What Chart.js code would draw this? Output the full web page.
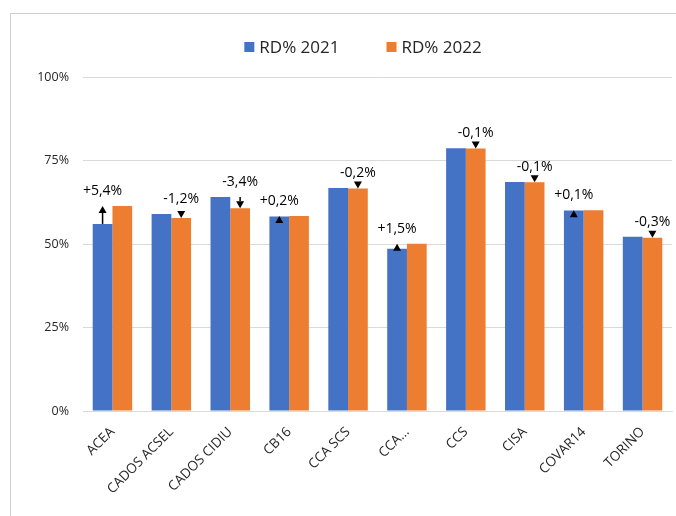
<!DOCTYPE html>
<html>
<head>
<meta charset="utf-8">
<script src="https://cdn.jsdelivr.net/npm/chart.js@4.4.1/dist/chart.umd.min.js"></script>
<style>
  html, body { margin: 0; padding: 0; background: #fff; }
  .frame { position: absolute; left: 10px; top: 13px; width: 720px; height: 560px; border: 1px solid #d0d0d0; }
  .wrap { position: absolute; left: 0; top: 0; width: 676px; height: 516px; }
</style>
</head>
<body>
<div class="frame"></div>
<div class="wrap"><canvas id="chart" width="676" height="516"></canvas></div>
<script>
  const categorie = ['ACEA', 'CADOS ACSEL', 'CADOS CIDIU', 'CB16', 'CCA SCS', 'CCA...', 'CCS', 'CISA', 'COVAR14', 'TORINO'];
  const rd2021 = [56.0, 59.0, 64.1, 58.2, 66.8, 48.6, 78.7, 68.6, 60.0, 52.2];
  const rd2022 = [61.4, 57.8, 60.7, 58.4, 66.6, 50.1, 78.6, 68.5, 60.1, 51.9];
  const variazione = [5.4, -1.2, -3.4, 0.2, -0.2, 1.5, -0.1, -0.1, 0.1, -0.3];
  const tickY = [0, 25, 50, 75, 100];

  const BLUE = '#4472C4';
  const ORANGE = '#ED7D31';

  const fmtVar = (v) => (v > 0 ? '+' : '') + v.toFixed(1).replace('.', ',') + '%';

  // legend drawn by hand (Excel style spacing)
  const legendPlugin = {
    id: 'excelLegend',
    afterDraw(chart) {
      const ctx = chart.ctx;
      const ds = chart.data.datasets;
      ctx.save();
      ctx.font = '17px "Open Sans"';
      ctx.textBaseline = 'middle';
      ctx.textAlign = 'left';
      const box = 10, gap = 5, spacing = 47;
      const widths = ds.map(d => box + gap + ctx.measureText(d.label).width);
      const total = widths.reduce((a, b) => a + b, 0) + spacing * (ds.length - 1);
      let x = 363 - total / 2;
      const y = 47;
      ds.forEach((d, i) => {
        ctx.fillStyle = d.backgroundColor;
        ctx.fillRect(x, y - box / 2, box, box);
        ctx.fillStyle = '#262626';
        ctx.fillText(d.label, x + box + gap, y + 1);
        x += widths[i] + spacing;
      });
      ctx.restore();
    }
  };

  // arrows + variation labels
  const arrowPlugin = {
    id: 'arrows',
    afterDatasetsDraw(chart) {
      const ctx = chart.ctx;
      const m1 = chart.getDatasetMeta(0).data;
      const m2 = chart.getDatasetMeta(1).data;
      const head = 7, half = 4;
      ctx.save();
      ctx.fillStyle = '#000';
      ctx.strokeStyle = '#000';
      ctx.lineWidth = 1.5;
      variazione.forEach((v, i) => {
        const up = v > 0;
        const x = up ? m1[i].x : m2[i].x;
        const y1 = m1[i].y, y2 = m2[i].y;
        const dir = up ? 1 : -1; // base of head below tip when up
        if (Math.abs(y2 - y1) > head) {
          ctx.beginPath();
          ctx.moveTo(x, y1);
          ctx.lineTo(x, y2 + dir * head);
          ctx.stroke();
        }
        ctx.beginPath();
        ctx.moveTo(x, y2);
        ctx.lineTo(x - half, y2 + dir * head);
        ctx.lineTo(x + half, y2 + dir * head);
        ctx.closePath();
        ctx.fill();

        ctx.font = '14px "Open Sans"';
        ctx.textAlign = 'center';
        ctx.textBaseline = 'middle';
        ctx.fillText(fmtVar(v), x, Math.min(y1, y2) - 15);
      });
      ctx.restore();
    }
  };

  new Chart(document.getElementById('chart'), {
    type: 'bar',
    data: {
      labels: categorie,
      datasets: [
        { label: 'RD% 2021', data: rd2021, backgroundColor: BLUE, categoryPercentage: 0.67, barPercentage: 1 },
        { label: 'RD% 2022', data: rd2022, backgroundColor: ORANGE, categoryPercentage: 0.67, barPercentage: 1 }
      ]
    },
    options: {
      responsive: false,
      animation: false,
      layout: { padding: { top: 77, right: 4, left: 0, bottom: 0 } },
      plugins: {
        legend: { display: false },
        tooltip: { enabled: false }
      },
      scales: {
        x: {
          grid: { display: false, drawTicks: false },
          border: { color: '#d9d9d9', width: 1 },
          ticks: {
            minRotation: 45,
            maxRotation: 45,
            padding: 13,
            color: '#262626',
            font: { family: 'Open Sans', size: 13.5 }
          },
          afterFit(scale) { scale.height = 105; }
        },
        y: {
          min: 0,
          max: 100,
          afterBuildTicks(scale) { scale.ticks = tickY.map(v => ({ value: v })); },
          grid: { color: '#d9d9d9', drawTicks: false },
          border: { display: false },
          ticks: {
            padding: 14,
            color: '#262626',
            font: { family: 'Open Sans', size: 12.5 },
            callback: (v) => v + '%'
          },
          afterFit(scale) { scale.width = 83; }
        }
      }
    },
    plugins: [legendPlugin, arrowPlugin]
  });
</script>
</body>
</html>
